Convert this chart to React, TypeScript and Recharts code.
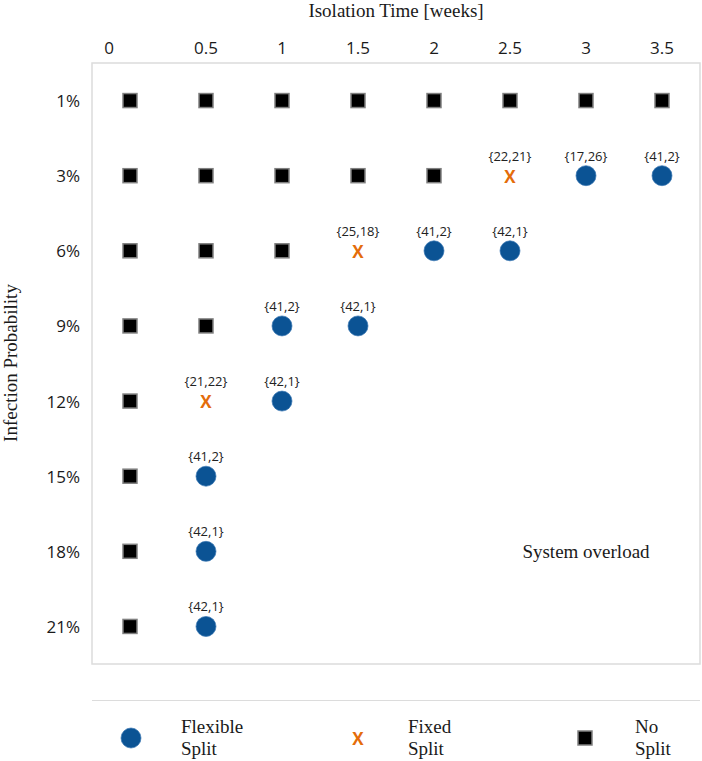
import React from 'react';
import { ScatterChart, Scatter, XAxis, YAxis, ReferenceArea, ReferenceDot, LabelList, Legend } from 'recharts';

const isolationTimes = [0, 0.5, 1, 1.5, 2, 2.5, 3, 3.5];
const infectionProbabilities = ['1%', '3%', '6%', '9%', '12%', '15%', '18%', '21%'];

// [isolation time, infection probability]
const noSplitCells: [number, string][] = [
  [0, '1%'], [0.5, '1%'], [1, '1%'], [1.5, '1%'], [2, '1%'], [2.5, '1%'], [3, '1%'], [3.5, '1%'],
  [0, '3%'], [0.5, '3%'], [1, '3%'], [1.5, '3%'], [2, '3%'],
  [0, '6%'], [0.5, '6%'], [1, '6%'],
  [0, '9%'], [0.5, '9%'],
  [0, '12%'], [0, '15%'], [0, '18%'], [0, '21%'],
];

// [isolation time, infection probability, split]
const fixedSplitCells: [number, string, string][] = [
  [2.5, '3%', '{22,21}'],
  [1.5, '6%', '{25,18}'],
  [0.5, '12%', '{21,22}'],
];

const flexibleSplitCells: [number, string, string][] = [
  [3, '3%', '{17,26}'],
  [3.5, '3%', '{41,2}'],
  [2, '6%', '{41,2}'],
  [2.5, '6%', '{42,1}'],
  [1, '9%', '{41,2}'],
  [1.5, '9%', '{42,1}'],
  [1, '12%', '{42,1}'],
  [0.5, '15%', '{41,2}'],
  [0.5, '18%', '{42,1}'],
  [0.5, '21%', '{42,1}'],
];

const overloadNote = { t: 3, p: '18%', text: 'System overload' };

const seriesNames = ['Flexible Split', 'Fixed Split', 'No Split'];

const toPoint = (c: any[]) => ({ x: c[0], y: infectionProbabilities.indexOf(c[1]), label: c[2] });
const noSplitData = noSplitCells.map(toPoint);
const fixedData = fixedSplitCells.map(toPoint);
const flexibleData = flexibleSplitCells.map(toPoint);

const SANS = '"Open Sans", sans-serif';
const SERIF = '"Liberation Serif", serif';
const BLUE = '#0b5394';
const ORANGE = '#e46c0a';

const CircleShape = (props: any) => (
  <circle cx={props.cx} cy={props.cy} r={10} fill={BLUE} stroke="#3b78b4" strokeWidth={1} strokeOpacity={0.7} />
);
const XShape = (props: any) => (
  <text x={props.cx} y={props.cy + 7} textAnchor="middle" fontFamily={SANS} fontWeight={700} fontSize={17} fill={ORANGE}>X</text>
);
const SquareShape = (props: any) => (
  <rect x={props.cx - 7} y={props.cy - 7} width={14} height={14} fill="#000" stroke="#808080" strokeWidth={1.5} />
);

const PointLabel = (props: any) => {
  const { x, y, width, height, value } = props;
  const cx = x + (width || 0) / 2;
  const cy = y + (height || 0) / 2;
  return (
    <text x={cx} y={cy - 20} textAnchor="middle" dominantBaseline="central" fontFamily={SANS} fontSize={13} fill="#222">
      {value}
    </text>
  );
};

const TopTick = (props: any) => {
  const { x, payload } = props;
  const dx = payload.value === 0 ? -21 : 0;
  return (
    <text x={x + dx} y={47} textAnchor="middle" dominantBaseline="central" fontFamily={SANS} fontSize={17} fill="#1a1a1a">
      {payload.value}
    </text>
  );
};

const LeftTick = (props: any) => {
  const { y, payload } = props;
  return (
    <text x={80} y={y} textAnchor="end" dominantBaseline="central" fontFamily={SANS} fontSize={17} fill="#1a1a1a">
      {infectionProbabilities[payload.value]}
    </text>
  );
};

const YTitle = () => (
  <text x={10} y={363} transform="rotate(-90 10 363)" textAnchor="middle" dominantBaseline="central" fontFamily={SERIF} fontSize={19} fill="#1a1a1a">
    Infection Probability
  </text>
);

const legendIcon = (name: string) => {
  if (name === seriesNames[0]) return <circle cx={12} cy={12} r={10} fill={BLUE} stroke="#3b78b4" strokeWidth={1} strokeOpacity={0.7} />;
  if (name === seriesNames[1]) return <text x={12} y={19} textAnchor="middle" fontFamily={SANS} fontWeight={700} fontSize={17} fill={ORANGE}>X</text>;
  return <rect x={5} y={5} width={14} height={14} fill="#000" stroke="#808080" strokeWidth={1.5} />;
};

const LegendContent = (props: any) => {
  const payload = [...(props.payload || [])].sort(
    (a: any, b: any) => seriesNames.indexOf(a.value) - seriesNames.indexOf(b.value)
  );
  return (
    <div style={{ position: 'relative', width: 702, height: 61 }}>
      <div style={{ position: 'absolute', left: 92, top: 0, width: 608, borderTop: '1.5px solid #dcdcdc' }} />
      {payload.map((entry: any, i: number) => {
        const mx = 131 + 227 * i;
        const words = String(entry.value).split(' ');
        return (
          <div key={i}>
            <svg style={{ position: 'absolute', left: mx - 12, top: 26 }} width={24} height={24}>
              {legendIcon(entry.value)}
            </svg>
            <div style={{ position: 'absolute', left: mx + 50, top: 16, fontFamily: SERIF, fontSize: 19, lineHeight: '22px', color: '#1a1a1a' }}>
              <div>{words[0]}</div>
              <div>{words[1]}</div>
            </div>
          </div>
        );
      })}
    </div>
  );
};

export default function App() {
  return (
    <div style={{ position: 'absolute', left: 0, top: 0, width: 702, height: 761, background: '#fff' }}>
      <ScatterChart width={702} height={761} margin={{ top: 0, right: 2, bottom: 97, left: 0 }}>
        <XAxis
          type="number"
          dataKey="x"
          orientation="top"
          height={63}
          domain={[-0.25, 3.75]}
          ticks={isolationTimes}
          axisLine={false}
          tickLine={false}
          tick={<TopTick />}
          label={{ value: 'Isolation Time [weeks]', position: 'insideTop', offset: 3, fontFamily: SERIF, fontSize: 19, fill: '#1a1a1a' }}
        />
        <YAxis
          type="number"
          dataKey="y"
          width={92}
          domain={[-0.5, 7.5]}
          reversed
          ticks={infectionProbabilities.map((_, i) => i)}
          axisLine={false}
          tickLine={false}
          tick={<LeftTick />}
          label={<YTitle />}
        />
        <ReferenceArea x1={-0.25} x2={3.75} y1={-0.5} y2={7.5} fill="none" stroke="#dcdcdc" strokeWidth={1.5} />
        <ReferenceDot
          x={overloadNote.t}
          y={infectionProbabilities.indexOf(overloadNote.p)}
          r={0}
          fill="none"
          stroke="none"
          label={{ value: overloadNote.text, position: 'center', fontFamily: SERIF, fontSize: 19, fill: '#1a1a1a' }}
        />
        <Scatter name={seriesNames[0]} data={flexibleData} shape={<CircleShape />} isAnimationActive={false}>
          <LabelList dataKey="label" content={<PointLabel />} />
        </Scatter>
        <Scatter name={seriesNames[1]} data={fixedData} shape={<XShape />} isAnimationActive={false}>
          <LabelList dataKey="label" content={<PointLabel />} />
        </Scatter>
        <Scatter name={seriesNames[2]} data={noSplitData} shape={<SquareShape />} isAnimationActive={false} />
        <Legend
          layout="horizontal"
          verticalAlign="middle"
          align="center"
          content={<LegendContent />}
          wrapperStyle={{ position: 'absolute', left: 0, top: 700, width: 702, height: 61 }}
        />
      </ScatterChart>
    </div>
  );
}
